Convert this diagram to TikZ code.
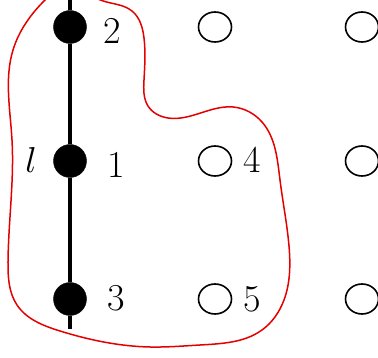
\documentclass[tikz,border=0pt]{standalone}
\usetikzlibrary{shapes.geometric,hobby}
\begin{document}
\begin{tikzpicture}[x=1pt,y=-1pt,
  dot/.style={circle,fill=black,draw=black,inner sep=0pt,minimum size=33pt},
  hole/.style={ellipse,draw=black,line width=1.6pt,inner sep=0pt,minimum width=33pt,minimum height=30pt},
  lab/.style={font=\fontsize{38}{40}\selectfont,inner sep=0pt},
  edge/.style={line width=3.2pt,black},
  blob/.style={draw=red!90!black,line width=1.5pt}]
\useasboundingbox (0,0) rectangle (378,358);
\clip (0,0) rectangle (378,358);
\node[dot] (d2) at (70,27) {};
\node[dot] (d1) at (70,161) {};
\node[dot] (d3) at (70,299) {};
\coordinate (top) at (70,-5);
\coordinate (bot) at (70,329);
\draw[edge] (top) -- (d2) -- (d1) -- (d3) -- (bot);
\node[hole] (o1) at (215,27) {};
\node[hole] (o2) at (215,161) {};
\node[hole] (o3) at (215,299) {};
\node[hole] (o4) at (362,27) {};
\node[hole] (o5) at (362,161) {};
\node[hole] (o6) at (362,299) {};
\node[lab] (l2) at (112,31) {2};
\node[lab] (l1) at (116,165) {1};
\node[lab] (l3) at (116,298) {3};
\node[lab] (l4) at (252,160) {4};
\node[lab] (l5) at (252,299) {5};
\node[inner sep=0pt,scale=3.6] (ll) at (31,160) {$l$};
\draw[blob,use Hobby shortcut,closed=true]
 (73,-14) .. (98,-1) .. (132,11) .. (144,38) .. (144,80) .. (148,106) .. (168,118)
 .. (233,107) .. (262,122) .. (280,180) .. (289,246) .. (284,300)
 .. (262,330) .. (200,345) .. (150,347) .. (60,331) .. (17,305)
 .. (8,262) .. (12,140) .. (13,50) .. (46,-1);
\end{tikzpicture}
\end{document}
